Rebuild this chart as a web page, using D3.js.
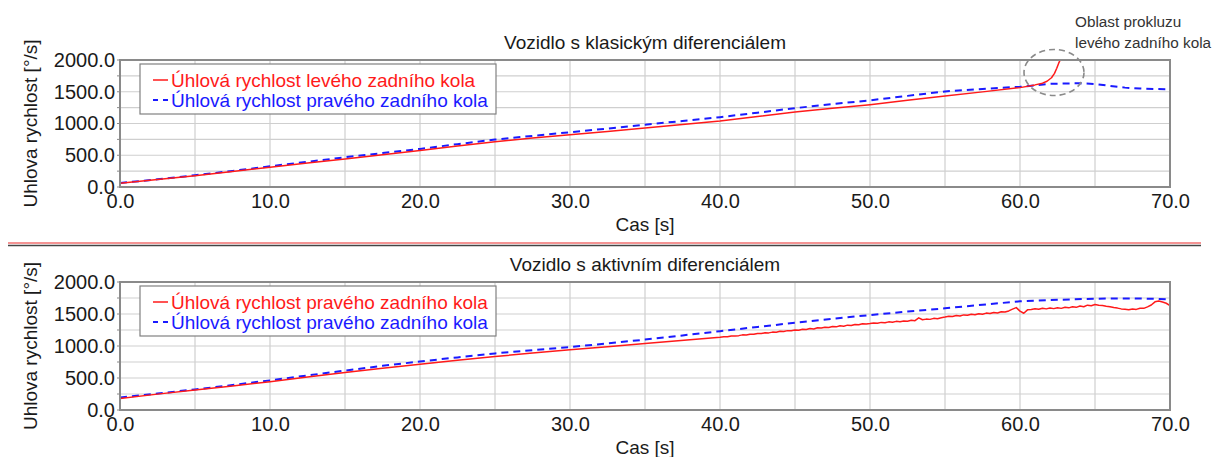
<!DOCTYPE html>
<html>
<head>
<meta charset="utf-8">
<script src="https://cdn.jsdelivr.net/npm/d3@7"></script>
<style>
  html, body { margin: 0; padding: 0; background: #fff; }
  svg { display: block; }
  text { font-family: "Liberation Sans", Arial, sans-serif; }
</style>
</head>
<body>
<svg id="chart" width="1213" height="457"></svg>
<script>
// ---- data: wheel angular speed [deg/s] over time [s] ----
const xTicks = [0, 10, 20, 30, 40, 50, 60, 70];
const yTicks = [0, 500, 1000, 1500, 2000];

// Vehicle with a conventional differential
const classicTime  = [0, 2.5, 5, 7.5, 10, 12.5, 15, 17.5, 20, 22.5, 25, 27.5, 30, 32.5, 35, 37.5, 40, 42.5, 45, 47.5, 50, 52.5, 55, 57.5, 60, 61, 61.5, 61.8, 62.1, 62.3, 62.45, 62.58, 62.68];
const classicLeft  = [60, 118, 179, 245, 311, 377, 442, 508, 574, 645, 714, 770, 823, 875, 930, 985, 1040, 1110, 1180, 1240, 1297, 1365, 1432, 1498, 1565, 1608, 1635, 1665, 1720, 1790, 1870, 1950, 2000];
const classicRightTime = [0, 2.5, 5, 7.5, 10, 12.5, 15, 17.5, 20, 22.5, 25, 27.5, 30, 32.5, 35, 37.5, 40, 42.5, 45, 47.5, 50, 52.5, 55, 57.5, 60, 61, 62, 63, 64, 65, 66, 67, 68, 69, 70];
const classicRight = [62, 122, 185, 253, 326, 397, 468, 534, 600, 675, 747, 805, 863, 920, 982, 1040, 1100, 1170, 1242, 1305, 1365, 1435, 1505, 1545, 1578, 1600, 1625, 1630, 1633, 1622, 1592, 1565, 1550, 1543, 1538];

// Vehicle with an active differential
const activeRedTime = [0, 2.5, 5, 7.5, 10, 12.5, 15, 17.5, 20, 22.5, 25, 27.5, 30, 32.5, 35, 36, 37, 38, 39].concat(d3.range(40, 70.001, 0.25));
const activeRed = [
  178, 248, 311, 376, 442, 514, 585, 651, 714, 776, 835, 889, 940, 990, 1040, 1060, 1080, 1098, 1118,
  1137, 1145, 1144, 1157, 1155, 1162, 1174, 1171, 1185, 1183, 1195, 1194, 1207, 1205, 1217, 1216, 1229, 1226, 1240, 1238,
  1250, 1247, 1262, 1258, 1272, 1267, 1285, 1280, 1294, 1289, 1305, 1299, 1316, 1309, 1326, 1320, 1337, 1331, 1347, 1342,
  1350, 1360, 1356, 1369, 1364, 1377, 1372, 1385, 1380, 1392, 1388, 1401, 1396, 1440, 1410, 1420, 1416, 1432, 1426, 1441,
  1452, 1466, 1460, 1476, 1470, 1486, 1479, 1495, 1489, 1504, 1497, 1514, 1507, 1524, 1516, 1534, 1530, 1548, 1576, 1600,
  1545, 1512, 1565, 1572, 1582, 1574, 1590, 1580, 1594, 1584, 1598, 1588, 1604, 1596, 1613, 1604, 1624, 1614, 1638, 1630,
  1648, 1636, 1632, 1622, 1614, 1600, 1592, 1580, 1574, 1565, 1578, 1572, 1590, 1588, 1612, 1640, 1690, 1702, 1688, 1668,
  1632
];
const activeBlueTime = [0, 2.5, 5, 7.5, 10, 12.5, 15, 17.5, 20, 22.5, 25, 27.5, 30, 32.5, 35, 37.5, 40, 42.5, 45, 47.5, 50, 52.5, 55, 57.5, 60, 62.5, 65, 67.5, 69, 70];
const activeBlue = [195, 258, 321, 390, 463, 540, 616, 690, 758, 822, 884, 935, 984, 1040, 1100, 1165, 1232, 1298, 1363, 1425, 1484, 1538, 1589, 1645, 1698, 1722, 1740, 1742, 1738, 1725];

const panels = [
  {
    title: "Vozidlo s klasickým diferenciálem",
    top: 60, bottom: 187,
    series: [
      { name: "Úhlová rychlost levého zadního kola", t: classicTime, v: classicLeft, color: "#ff1a1a", dash: null },
      { name: "Úhlová rychlost pravého zadního kola", t: classicRightTime, v: classicRight, color: "#1a1aff", dash: "7,5" }
    ]
  },
  {
    title: "Vozidlo s aktivním diferenciálem",
    top: 282, bottom: 410,
    series: [
      { name: "Úhlová rychlost pravého zadního kola", t: activeRedTime, v: activeRed, color: "#ff1a1a", dash: null },
      { name: "Úhlová rychlost pravého zadního kola", t: activeBlueTime, v: activeBlue, color: "#1a1aff", dash: "7,5" }
    ]
  }
];

const svg = d3.select("#chart");
const x = d3.scaleLinear().domain([0, 70]).range([120, 1170]);
const fmt = d3.format(".1f");

panels.forEach((p, i) => {
  const y = d3.scaleLinear().domain([0, 2000]).range([p.bottom, p.top]);
  const g = svg.append("g");

  // grid
  g.append("g").selectAll("line").data(d3.range(5, 70, 5)).join("line")
    .attr("x1", d => x(d)).attr("x2", d => x(d))
    .attr("y1", p.top).attr("y2", p.bottom)
    .attr("stroke", "#cfcfcf").attr("stroke-width", 1.2);
  g.append("g").selectAll("line").data(d3.range(250, 2000, 250)).join("line")
    .attr("x1", x(0)).attr("x2", x(70))
    .attr("y1", d => y(d)).attr("y2", d => y(d))
    .attr("stroke", "#cfcfcf").attr("stroke-width", 1.2);

  // small ticks left of the plot
  g.append("g").selectAll("line").data(d3.range(0, 2001, 250)).join("line")
    .attr("x1", x(0) - 3).attr("x2", x(0))
    .attr("y1", d => y(d)).attr("y2", d => y(d))
    .attr("stroke", "#888").attr("stroke-width", 1);

  // series, clipped to the plot area
  const clipId = "clip" + i;
  svg.append("clipPath").attr("id", clipId).append("rect")
    .attr("x", x(0)).attr("y", p.top).attr("width", x(70) - x(0)).attr("height", p.bottom - p.top);
  const lines = g.append("g").attr("clip-path", `url(#${clipId})`);
  p.series.slice().reverse().forEach(s => {
    const line = d3.line().x((d, k) => x(s.t[k])).y(d => y(d));
    lines.append("path").datum(s.v)
      .attr("d", line)
      .attr("fill", "none")
      .attr("stroke", s.color)
      .attr("stroke-width", s.dash ? 2 : 1.5)
      .attr("stroke-linejoin", "round")
      .attr("stroke-dasharray", s.dash);
  });

  // plot frame
  g.append("rect")
    .attr("x", x(0)).attr("y", p.top)
    .attr("width", x(70) - x(0)).attr("height", p.bottom - p.top)
    .attr("fill", "none").attr("stroke", "#8a8a8a").attr("stroke-width", 2);

  // axes
  const ya = g.append("g").attr("transform", `translate(${x(0)},0)`)
    .call(d3.axisLeft(y).tickValues(yTicks).tickFormat(fmt).tickSize(0).tickPadding(5));
  ya.select(".domain").remove();
  ya.selectAll("text").attr("font-size", 20).attr("fill", "#1a1a1a")
    .attr("font-family", "'Liberation Sans', Arial, sans-serif");

  const xa = g.append("g").attr("transform", `translate(0,${p.bottom})`)
    .call(d3.axisBottom(x).tickValues(xTicks).tickFormat(fmt).tickSize(0).tickPadding(7));
  xa.select(".domain").remove();
  xa.selectAll("text").attr("font-size", 20).attr("fill", "#1a1a1a")
    .attr("font-family", "'Liberation Sans', Arial, sans-serif");

  // titles
  g.append("text").attr("x", 645).attr("y", p.top - 11)
    .attr("text-anchor", "middle").attr("font-size", 19).attr("fill", "#1a1a1a")
    .text(p.title);
  g.append("text").attr("x", 645).attr("y", p.bottom + 44)
    .attr("text-anchor", "middle").attr("font-size", 19).attr("fill", "#1a1a1a")
    .text("Cas [s]");
  g.append("text")
    .attr("transform", `translate(37,${(p.top + p.bottom) / 2}) rotate(-90)`)
    .attr("text-anchor", "middle").attr("font-size", 19).attr("fill", "#1a1a1a")
    .text("Uhlova rychlost [°/s]");

  // legend
  const lg = g.append("g").attr("transform", `translate(140,${p.top + 4})`);
  lg.append("rect").attr("width", 356).attr("height", 50)
    .attr("fill", "#fff").attr("stroke", "#808080").attr("stroke-width", 1.2);
  p.series.forEach((s, k) => {
    const cy = 16 + k * 20;
    lg.append("line").attr("x1", 13).attr("x2", 28).attr("y1", cy).attr("y2", cy)
      .attr("stroke", s.color).attr("stroke-width", s.dash ? 2 : 1.5)
      .attr("stroke-dasharray", s.dash ? "5,5" : null);
    lg.append("text").attr("x", 31).attr("y", cy + 7)
      .attr("font-size", 19).attr("fill", s.color).text(s.name);
  });
});

// separator between the two charts
svg.append("line").attr("x1", 8).attr("x2", 1201).attr("y1", 243).attr("y2", 243)
  .attr("stroke", "#f07070").attr("stroke-width", 1.5);
svg.append("line").attr("x1", 8).attr("x2", 1201).attr("y1", 245.5).attr("y2", 245.5)
  .attr("stroke", "#444").attr("stroke-width", 1.5);

// wheel-slip callout
svg.append("ellipse").attr("cx", 1054).attr("cy", 72.5).attr("rx", 30).attr("ry", 23)
  .attr("fill", "none").attr("stroke", "#8a8a8a").attr("stroke-width", 1.6)
  .attr("stroke-dasharray", "6,4");
const note = svg.append("text").attr("font-family", "'Noto Sans', 'Open Sans', sans-serif")
  .attr("font-size", 15.3).attr("fill", "#333");
note.append("tspan").attr("x", 1075).attr("y", 27).text("Oblast prokluzu");
note.append("tspan").attr("x", 1075).attr("y", 48).text("levého zadního kola");
</script>
</body>
</html>
